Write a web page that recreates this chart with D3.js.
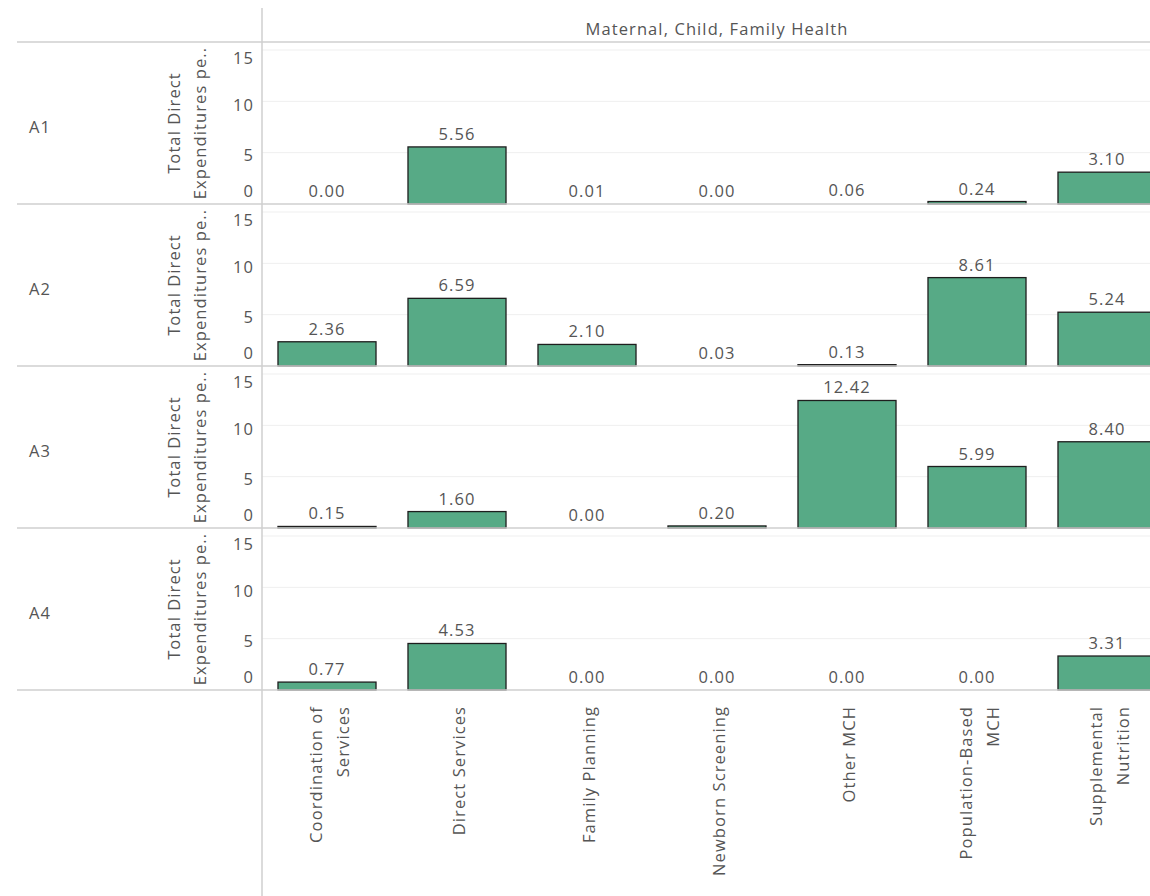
<!DOCTYPE html>
<html><head><meta charset="utf-8">
<script src="https://cdn.jsdelivr.net/npm/d3@7"></script>
<style>
body{margin:0;background:#fff;overflow:hidden}
svg{display:block;font-family:"Open Sans",sans-serif}
svg text{letter-spacing:1.1px}
</style></head>
<body><svg id="chart" width="1150" height="896"></svg>
<script>
const header = "Maternal, Child, Family Health";
const categories = ["Coordination of Services","Direct Services","Family Planning","Newborn Screening","Other MCH","Population-Based MCH","Supplemental Nutrition"];
const categoryLines = [["Coordination of","Services"],["Direct Services"],["Family Planning"],["Newborn Screening"],["Other MCH"],["Population-Based","MCH"],["Supplemental","Nutrition"]];
const rows = ["A1","A2","A3","A4"];
const valuesA1 = [0.00, 5.56, 0.01, 0.00, 0.06, 0.24, 3.10];
const valuesA2 = [2.36, 6.59, 2.10, 0.03, 0.13, 8.61, 5.24];
const valuesA3 = [0.15, 1.60, 0.00, 0.20, 12.42, 5.99, 8.40];
const valuesA4 = [0.77, 4.53, 0.00, 0.00, 0.00, 0.00, 3.31];
const rowValues = [valuesA1, valuesA2, valuesA3, valuesA4];
const yTicks = [0, 5, 10, 15];
const yTitleLines = ["Total Direct", "Expenditures pe.."];

const svg = d3.select("#chart");
const W = 1150;
const plotLeft = 262, plotRight = 1172;
const headerBottom = 42, panelH = 162;
const textColor = "#555";
const lineColor = "#cfcfcf";
const fs = 16.5;

const x = d3.scaleBand().domain(categories).range([plotLeft, plotRight])
  .paddingInner(0.246).paddingOuter(0.123);

// header
svg.append("text").attr("x", (plotLeft + plotRight) / 2).attr("y", 35)
  .attr("text-anchor", "middle").attr("font-size", fs).attr("fill", textColor).text(header);

rows.forEach((r, i) => {
  const top = headerBottom + i * panelH;
  const base = top + panelH;
  const y = d3.scaleLinear().domain([0, 15]).range([base, base - 154]);
  const g = svg.append("g");

  // gridlines
  g.selectAll("line.grid").data(yTicks.filter(t => t > 0)).join("line")
    .attr("x1", plotLeft).attr("x2", W).attr("y1", d => y(d)).attr("y2", d => y(d))
    .attr("stroke", "#efefef").attr("stroke-width", 1);

  // row label
  g.append("text").attr("x", 29).attr("y", (top + base) / 2 + 6)
    .attr("dominant-baseline", "middle").attr("font-size", fs).attr("fill", textColor).text(r);

  // y axis title
  const tg = g.append("g").attr("transform", `translate(0,${(top + base) / 2}) rotate(-90)`);
  yTitleLines.forEach((t, k) => {
    tg.append("text").attr("x", 0).attr("y", 176 + k * 26).attr("text-anchor", "middle")
      .attr("dominant-baseline", "middle").attr("font-size", fs).attr("fill", textColor).text(t);
  });

  // y ticks labels
  g.selectAll("text.tick").data(yTicks).join("text")
    .attr("x", 254)
    .attr("y", d => y(d) + (d === 15 ? 10 : d === 0 ? -11 : d === 10 ? 5 : 4))
    .attr("text-anchor", "end").attr("dominant-baseline", "middle")
    .attr("font-size", fs).attr("fill", textColor).text(d => d);

  // bars
  const vals = rowValues[i];
  const data = categories.map((c, k) => ({c, v: vals[k]}));
  g.selectAll("rect").data(data.filter(d => y(0) - y(d.v) >= 1)).join("rect")
    .attr("x", d => x(d.c)).attr("width", x.bandwidth())
    .attr("y", d => y(d.v)).attr("height", d => y(0) - y(d.v))
    .attr("fill", "#57aa86").attr("stroke", "#1e1e1e").attr("stroke-width", 1.3);

  g.selectAll("text.val").data(data).join("text")
    .attr("x", d => x(d.c) + x.bandwidth() / 2).attr("y", d => y(d.v) - 7)
    .attr("text-anchor", "middle").attr("font-size", fs).attr("fill", textColor)
    .text(d => d.v.toFixed(2));
});

// separators
const seps = d3.range(rows.length + 1).map(i => headerBottom + i * panelH);
svg.selectAll("line.sep").data(seps).join("line")
  .attr("x1", 17).attr("x2", W).attr("y1", d => d).attr("y2", d => d)
  .attr("stroke", lineColor).attr("stroke-width", 1.5);

// vertical divider
svg.append("line").attr("x1", plotLeft).attr("x2", plotLeft).attr("y1", 8).attr("y2", 896)
  .attr("stroke", lineColor).attr("stroke-width", 1.5);

// x labels
const xTop = headerBottom + rows.length * panelH + 16;
categories.forEach((c, k) => {
  const lines = categoryLines[k];
  const cx = x(c) + x.bandwidth() / 2 + 4;
  const gl = svg.append("g").attr("transform", `translate(${cx},${xTop}) rotate(-90)`);
  lines.forEach((t, j) => {
    const off = (j - (lines.length - 1) / 2) * 27;
    gl.append("text").attr("x", 0).attr("y", off).attr("text-anchor", "end")
      .attr("dominant-baseline", "middle").attr("font-size", fs).attr("fill", textColor).text(t);
  });
});
</script></body></html>
